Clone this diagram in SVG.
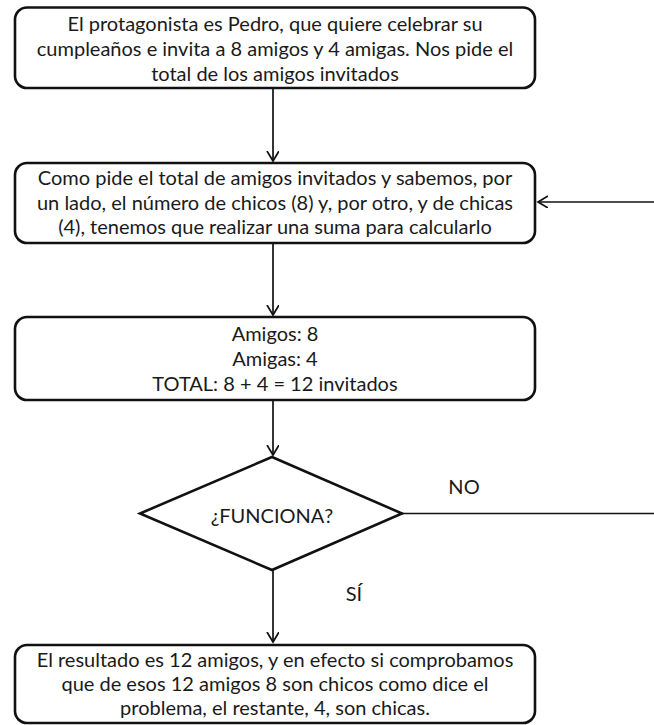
<svg xmlns="http://www.w3.org/2000/svg" width="654" height="725" viewBox="0 0 654 725">
  <style>
    .box { fill: #ffffff; stroke: #111111; stroke-width: 2.6; }
    .lbl { font-family: Lato, "Open Sans", "Liberation Sans", sans-serif; font-size: 20px; fill: #1a1a1a; text-anchor: middle; }
    .edge { fill: none; stroke: #111111; stroke-width: 1.7; }
  </style>
  <defs>
    <marker id="arrow" markerUnits="userSpaceOnUse" markerWidth="14" markerHeight="14" refX="10" refY="6" orient="auto">
      <path d="M0,0 L10,6 L0,12" fill="none" stroke="#111111" stroke-width="1.7"/>
    </marker>
  </defs>
  <rect width="654" height="725" fill="#ffffff"/>

  <!-- connectors -->
  <g id="connectors">
    <line class="edge" x1="273" y1="88" x2="273" y2="161" marker-end="url(#arrow)"/>
    <line class="edge" x1="273" y1="243" x2="273" y2="315" marker-end="url(#arrow)"/>
    <line class="edge" x1="273" y1="400" x2="273" y2="455" marker-end="url(#arrow)"/>
    <line class="edge" x1="273" y1="570" x2="273" y2="642" marker-end="url(#arrow)"/>
    <!-- NO branch loops back to the reasoning step -->
    <line class="edge" x1="402" y1="513.5" x2="654" y2="513.5"/>
    <line class="edge" x1="654" y1="202" x2="538" y2="202" marker-end="url(#arrow)"/>
    <text class="lbl" x="464" y="494">NO</text>
    <text class="lbl" x="354" y="601">SÍ</text>
  </g>

  <g id="enunciado">
    <rect class="box" x="15" y="7.5" width="520" height="80.5" rx="12"/>
    <text class="lbl" x="275" y="31">El protagonista es Pedro, que quiere celebrar su</text>
    <text class="lbl" x="275" y="56">cumpleaños e invita a 8 amigos y 4 amigas. Nos pide el</text>
    <text class="lbl" x="275" y="81">total de los amigos invitados</text>
  </g>

  <g id="razonamiento">
    <rect class="box" x="15" y="163" width="520" height="80" rx="12"/>
    <text class="lbl" x="275" y="185">Como pide el total de amigos invitados y sabemos, por</text>
    <text class="lbl" x="275" y="209.5">un lado, el número de chicos (8) y, por otro, y de chicas</text>
    <text class="lbl" x="275" y="234">(4), tenemos que realizar una suma para calcularlo</text>
  </g>

  <g id="calculo">
    <rect class="box" x="15" y="317" width="520" height="83" rx="12"/>
    <text class="lbl" x="275" y="341">Amigos: 8</text>
    <text class="lbl" x="275" y="366">Amigas: 4</text>
    <text class="lbl" x="275" y="391">TOTAL: 8 + 4 = 12 invitados</text>
  </g>

  <g id="comprobacion">
    <polygon class="box" points="272,457 402,513.5 272,570 140,513.5"/>
    <text class="lbl" x="272" y="523">¿FUNCIONA?</text>
  </g>

  <g id="resultado">
    <rect class="box" x="15" y="645" width="520" height="78" rx="12"/>
    <text class="lbl" x="275" y="667">El resultado es 12 amigos, y en efecto si comprobamos</text>
    <text class="lbl" x="275" y="691">que de esos 12 amigos 8 son chicos como dice el</text>
    <text class="lbl" x="275" y="715">problema, el restante, 4, son chicas.</text>
  </g>
</svg>
